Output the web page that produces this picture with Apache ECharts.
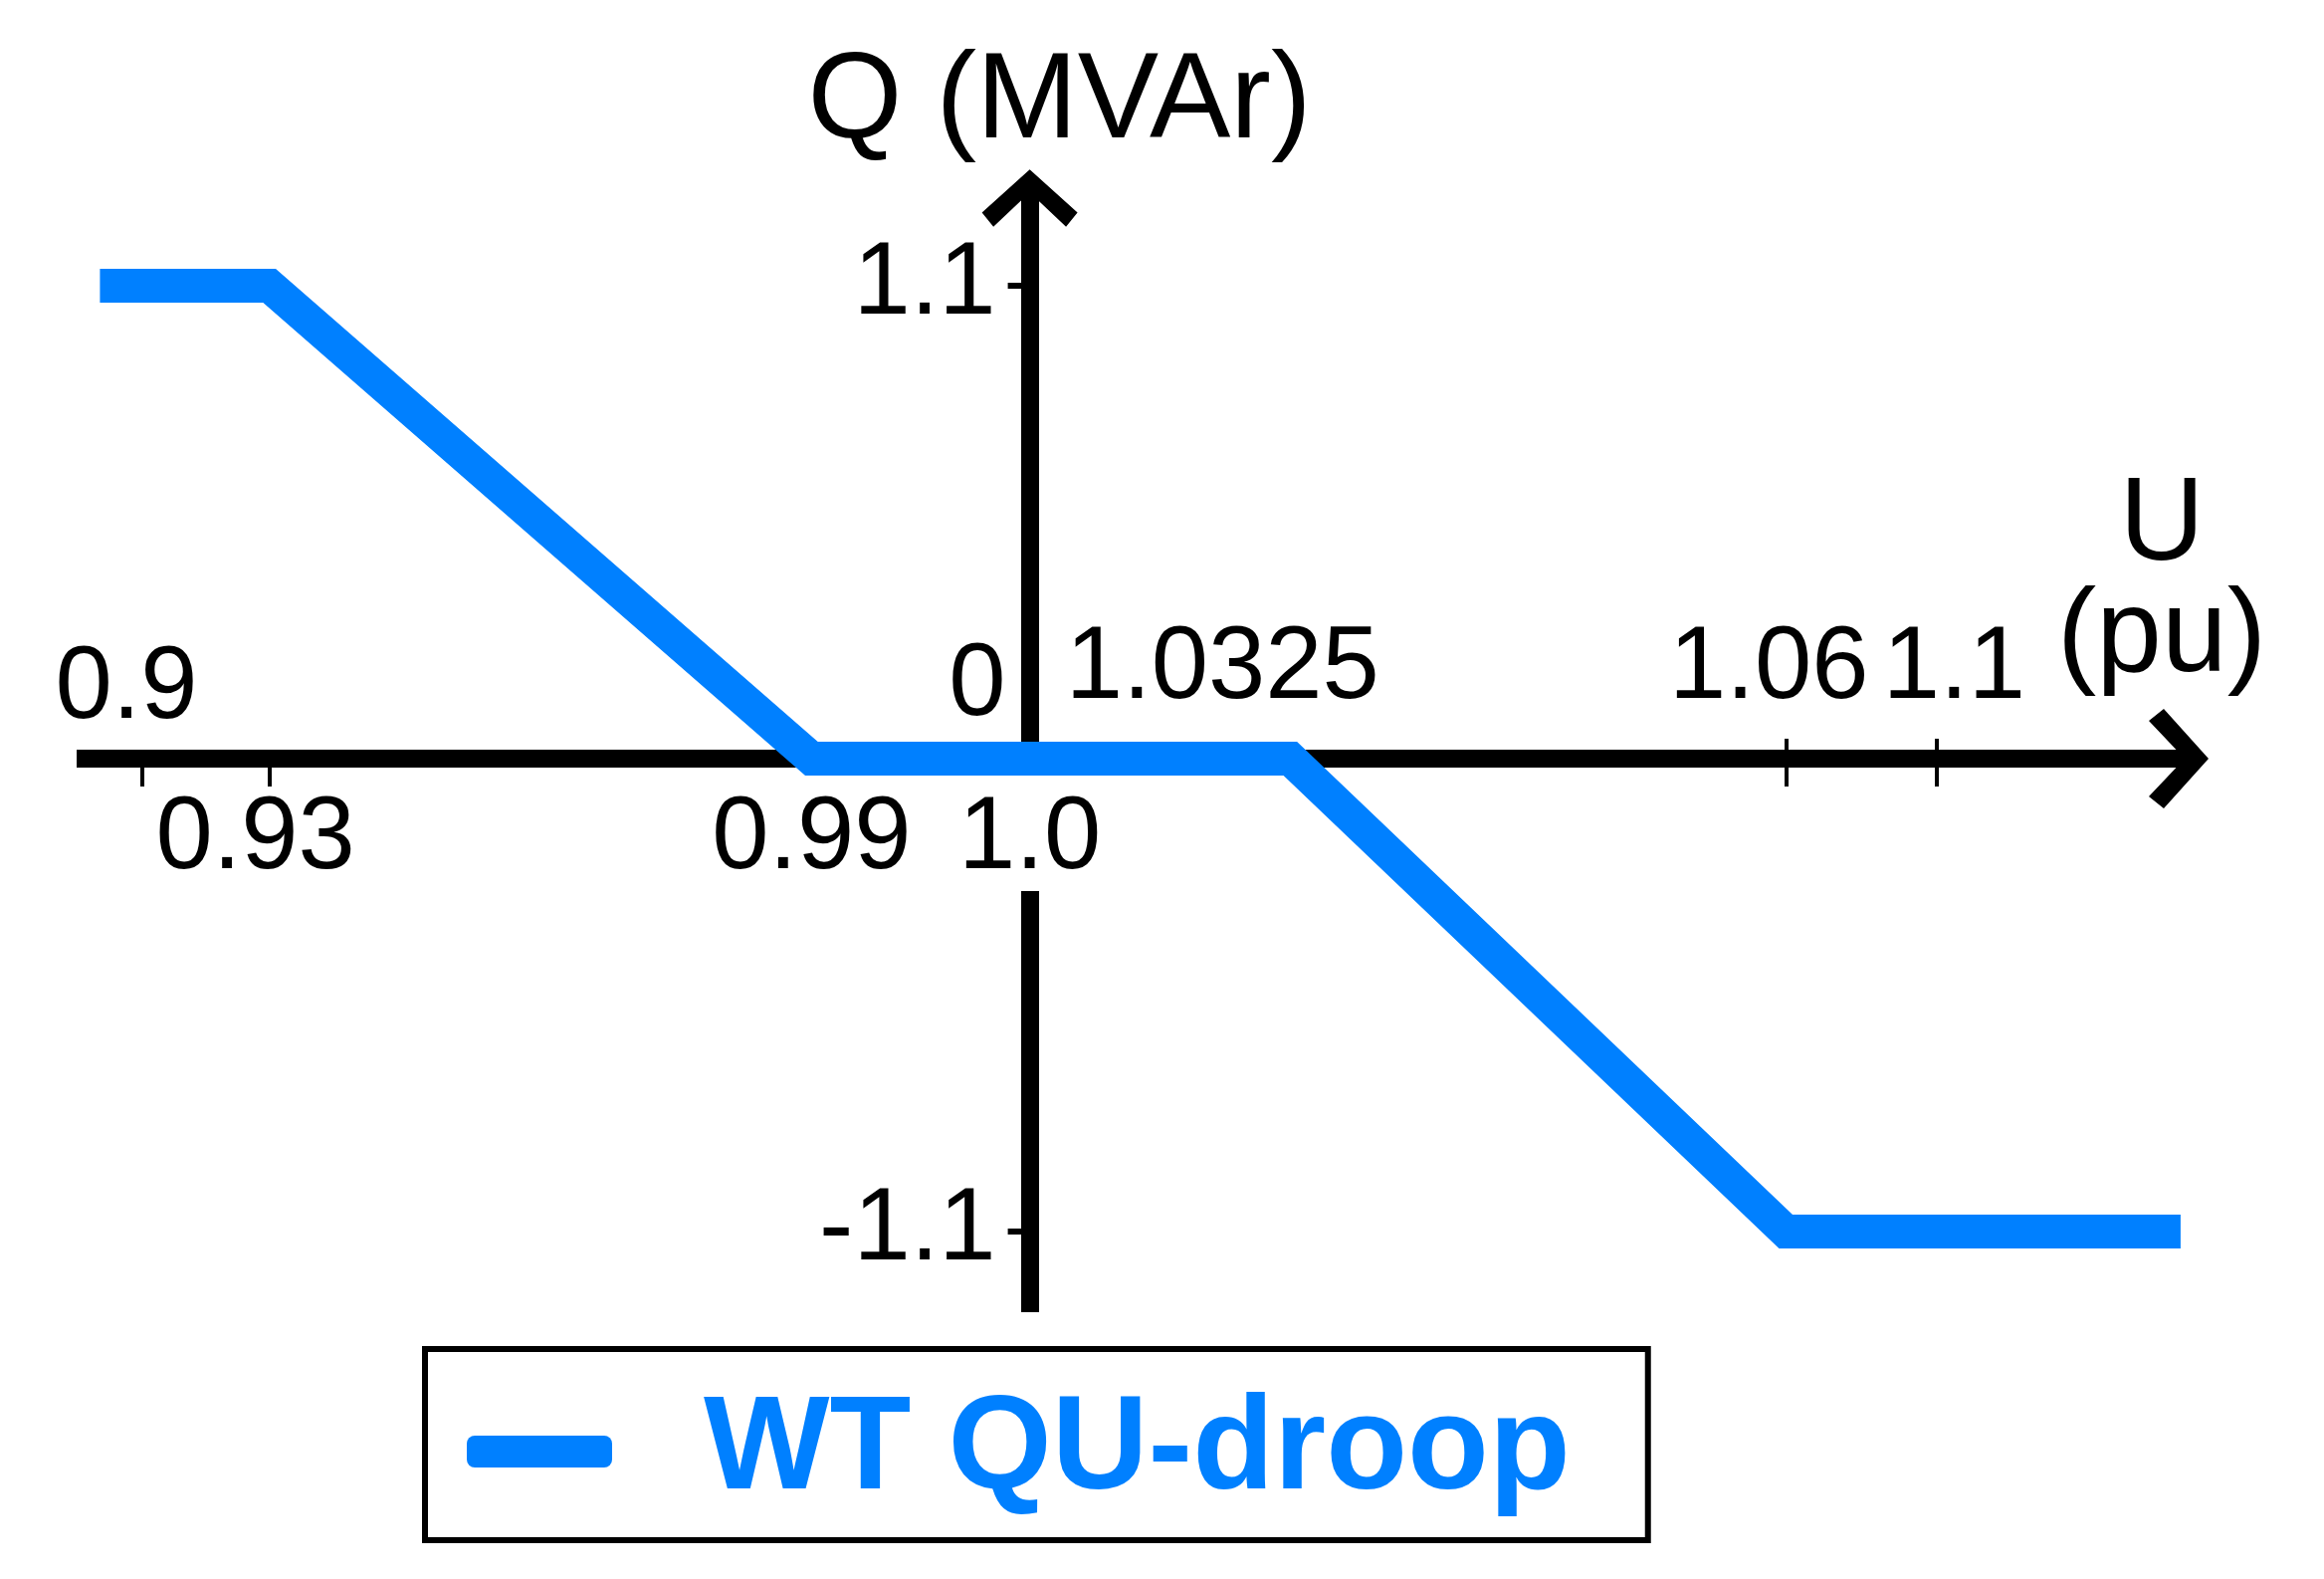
<!DOCTYPE html>
<html>
<head>
<meta charset="utf-8">
<script src="https://cdn.jsdelivr.net/npm/echarts@6/dist/echarts.min.js"></script>
<style>html,body{margin:0;padding:0;background:#fff}#c{width:2335px;height:1586px}</style>
</head>
<body>
<div id="c"></div>
<script>
// ---- data ----
const uTickValues = [0.9, 0.93, 0.99, 1.0, 1.0325, 1.06, 1.1];
const uTickLabels = ['0.9', '0.93', '0.99', '1.0', '1.0325', '1.06', '1.1'];
// schematic (not-to-scale) axis slots of the U ticks, relative to U = 1.0
const uTickSlots = [-41.9, -35.9, -10.3, 0, 12.3, 35.7, 42.8];
const labelsBelow = ['0.93', '0.99', '1.0'];
const labelsAbove = ['0.9', '1.0325', '1.06', '1.1'];
const ticksBelow = ['0.9', '0.93', '1.06', '1.1'];
const ticksAbove = ['1.06', '1.1'];
const qTickValues = [1.1, 0, -1.1];
const qTickLabels = ['1.1', '0', '-1.1'];
const qTicksShown = [1.1, -1.1];
const seriesName = 'WT QU-droop';
const droopU = [0.89, 0.93, 0.99, 1.0325, 1.06, 1.165];
const droopQ = [1.1, 1.1, 0, 0, -1.1, -1.1];

// piecewise (schematic) scale from U to axis slot
function slotOf(u) {
  const v = uTickValues, s = uTickSlots, n = v.length;
  let i = 0;
  if (u <= v[0]) i = 0;
  else if (u >= v[n - 1]) i = n - 2;
  else { while (!(u >= v[i] && u <= v[i + 1])) i++; }
  return s[i] + (u - v[i]) * (s[i + 1] - s[i]) / (v[i + 1] - v[i]);
}
function slotsFor(labels) { return labels.map(l => uTickSlots[uTickLabels.indexOf(l)]); }
function idxOfSlot(val) {
  for (let i = 0; i < uTickSlots.length; i++) if (Math.abs(uTickSlots[i] - val) < 1e-6) return i;
  return -1;
}

const FONT = 'Liberation Sans, Arial, sans-serif';
const FS = 103;
const chevron = 'path://M50,0 L100,45 L88,60 L50,24 L12,60 L0,45 Z';
const xMin = -45.0, xMax = 55.0;
const yMin = -1.2876, yMax = 1.3363;

const W = 2335, H = 1586;
const G = { left: 77, right: 130, top: 185, bottom: 268 };
const gridBottomY = H - G.bottom;
const gridRightX = W - G.right;
const zeroY = G.top + (yMax / (yMax - yMin)) * (gridBottomY - G.top);
const zeroX = G.left + ((0 - xMin) / (xMax - xMin)) * (gridRightX - G.left);

const base = { fontSize: FS, fontFamily: FONT, color: '#000' };
const xRich = {
  k0: Object.assign({}, base, { padding: [0, 32, 0, 0] }),
  k1: Object.assign({}, base, { padding: [16, 28, 0, 0] }),
  k2: Object.assign({}, base, { padding: [16, 0, 0, 0] }),
  k3: Object.assign({}, base, { padding: [16, 0, 0, 0], backgroundColor: '#fff' }),
  k4: Object.assign({}, base, { padding: [0, 136, 20, 0] }),
  k5: Object.assign({}, base, { padding: [0, 34, 20, 0] }),
  k6: Object.assign({}, base, { padding: [0, 0, 20, 36] })
};
const xFmt = v => { const i = idxOfSlot(v); return i < 0 ? '' : '{k' + i + '|' + uTickLabels[i] + '}'; };

const yRich = {
  q0: Object.assign({}, base, { padding: [0, 10, 0, 0] }),
  q1: Object.assign({}, base, { padding: [0, 0, 144, 0] }),
  q2: Object.assign({}, base, { padding: [0, 10, 0, 0] })
};
const yFmt = v => { const i = qTickValues.findIndex(q => Math.abs(q - v) < 1e-9); return i < 0 ? '' : '{q' + i + '|' + qTickLabels[i] + '}'; };

const option = {
  animation: false,
  backgroundColor: '#fff',
  textStyle: { fontFamily: FONT },
  grid: { left: G.left, right: G.right, top: G.top, bottom: G.bottom, containLabel: false, outerBoundsMode: 'none' },
  legend: {
    data: [seriesName],
    left: 427, top: 1355,
    icon: 'roundRect',
    itemWidth: 146, itemHeight: 32,
    borderColor: '#000', borderWidth: 6, borderRadius: 0,
    padding: [36, 78, 22, 42],
    textStyle: { color: '#0080FF', fontSize: 134, fontWeight: 'bold', fontFamily: FONT, padding: [0, 0, 0, 87] }
  },
  xAxis: [
    {
      type: 'value', min: xMin, max: xMax, position: 'bottom', offset: -(gridBottomY - zeroY), z: 3,
      axisLine: { show: true, onZero: false, lineStyle: { color: '#000', width: 18, cap: 'butt' },
        symbol: ['none', chevron], symbolSize: [100, 60], symbolOffset: [0, -16] },
      axisTick: { show: true, customValues: slotsFor(ticksBelow), length: 28, lineStyle: { color: '#000', width: 4 } },
      axisLabel: { show: true, customValues: slotsFor(labelsBelow), margin: 14, formatter: xFmt, rich: xRich, fontSize: FS, color: '#000' },
      splitLine: { show: false },
      name: 'U\n(pu)', nameLocation: 'end', nameGap: -33, nameMoveOverlap: false,
      nameTextStyle: { fontSize: 118, fontFamily: FONT, color: '#000', align: 'center', verticalAlign: 'bottom', lineHeight: 112, padding: [0, 0, 65, 0] }
    },
    {
      type: 'value', min: xMin, max: xMax, position: 'top', offset: -(zeroY - G.top), z: 3,
      axisLine: { show: false, onZero: false },
      axisTick: { show: true, customValues: slotsFor(ticksAbove), length: 20, lineStyle: { color: '#000', width: 4 } },
      axisLabel: { show: true, customValues: slotsFor(labelsAbove), margin: 18, formatter: xFmt, rich: xRich, fontSize: FS, color: '#000' },
      splitLine: { show: false }
    }
  ],
  yAxis: [
    {
      type: 'value', min: yMin, max: yMax, position: 'left', offset: -(zeroX - G.left), z: 2,
      axisLine: { show: true, onZero: false, lineStyle: { color: '#000', width: 18, cap: 'butt' },
        symbol: ['none', chevron], symbolSize: [96, 62], symbolOffset: [0, -14] },
      axisTick: { show: true, customValues: qTicksShown, length: 22, lineStyle: { color: '#000', width: 6 } },
      axisLabel: { show: true, customValues: qTickValues, margin: 24, formatter: yFmt, rich: yRich, fontSize: FS, color: '#000' },
      splitLine: { show: false },
      name: 'Q (MVAr)', nameLocation: 'end', nameGap: 81, nameMoveOverlap: false,
      nameTextStyle: { fontSize: 122, fontFamily: FONT, color: '#000', align: 'center', verticalAlign: 'middle', padding: [0, 0, 0, 60] }
    }
  ],
  series: [
    {
      name: seriesName, type: 'line', xAxisIndex: 0, yAxisIndex: 0,
      showSymbol: false, symbol: 'none',
      lineStyle: { color: '#0080FF', width: 34, join: 'miter', cap: 'butt' },
      itemStyle: { color: '#0080FF' },
      data: droopU.map((u, i) => [slotOf(u), droopQ[i]]),
      z: 5
    }
  ]
};
const chart = echarts.init(document.getElementById('c'), null, { renderer: 'canvas' });
chart.setOption(option);
</script>
</body>
</html>
